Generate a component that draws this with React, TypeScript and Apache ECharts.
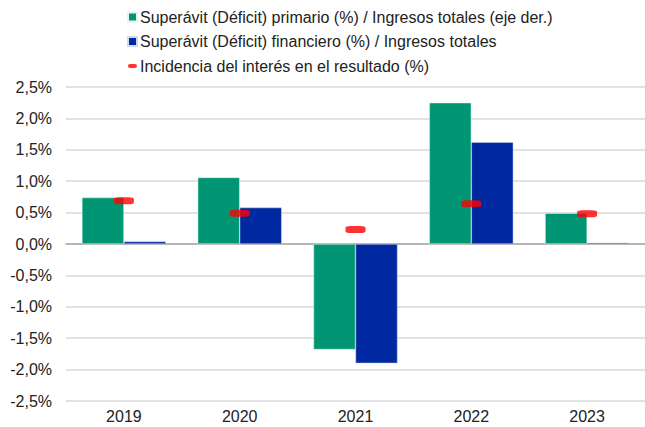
import React, { useEffect, useRef } from "react";
import * as echarts from "echarts";

const categories = ["2019", "2020", "2021", "2022", "2023"];
const primario = [0.74, 1.06, -1.68, 2.25, 0.49];
const financiero = [0.04, 0.58, -1.9, 1.62, 0.02];
const incidencia = [0.69, 0.49, 0.23, 0.64, 0.48];

const names = [
  "Superávit (Déficit) primario (%) / Ingresos totales (eje der.)",
  "Superávit (Déficit) financiero (%) / Ingresos totales",
  "Incidencia del interés en el resultado (%)",
];

export default function App() {
  const ref = useRef<HTMLDivElement>(null);
  useEffect(() => {
    if (!ref.current) return;
    const chart = echarts.init(ref.current, undefined, { renderer: "svg" });
    const font = "Liberation Sans, Arial, sans-serif";
    chart.setOption({
      animation: false,
      backgroundColor: "#ffffff",
      textStyle: { fontFamily: font },
      legend: {
        orient: "vertical",
        left: 122,
        top: 4,
        itemGap: 8.5,
        itemWidth: 9,
        itemHeight: 9,
        textStyle: { fontSize: 16, color: "#222", fontFamily: font, padding: [0, 0, 0, -2] },
        data: [
          { name: names[0], icon: "rect" },
          { name: names[1], icon: "rect" },
          { name: names[2], icon: "path://M3,0h7a3,3 0 0 1 0,6h-7a3,3 0 0 1 0,-6z" },
        ],
      },
      grid: { left: 66, right: 0, top: 87, bottom: 26, containLabel: false },
      xAxis: {
        type: "category",
        data: categories,
        axisLine: { onZero: true, lineStyle: { color: "#a6a6a6", width: 1.5 } },
        axisTick: { show: false },
        axisLabel: { fontSize: 16, color: "#222", margin: 7, fontFamily: font },
      },
      yAxis: {
        type: "value",
        min: -2.5,
        max: 2.5,
        interval: 0.5,
        axisLine: { show: false },
        axisTick: { show: false },
        splitLine: { lineStyle: { color: "#d9d9d9", width: 1.5 } },
        axisLabel: {
          fontSize: 16,
          color: "#222",
          margin: 14,
          fontFamily: font,
          formatter: (v: number) => v.toFixed(1).replace(".", ",") + "%",
        },
      },
      series: [
        {
          name: names[0],
          type: "bar",
          data: primario,
          barWidth: 42,
          barGap: "0%",
          itemStyle: { color: "#009673", borderColor: "#e6f4ef", borderWidth: 0.5 },
        },
        {
          name: names[1],
          type: "bar",
          data: financiero,
          barWidth: 42,
          barGap: "0%",
          itemStyle: { color: "#0028a0", borderColor: "#d0d8f0", borderWidth: 0.5 },
        },
        {
          name: names[2],
          type: "scatter",
          data: incidencia,
          symbol: "roundRect",
          symbolSize: [20, 7],
          symbolKeepAspect: true,
          z: 5,
          itemStyle: { color: "#ff0000" },
        },
      ],
    });
    return () => chart.dispose();
  }, []);
  return (
    <div
      ref={ref}
      style={{ position: "absolute", left: 0, top: 0, width: 645, height: 427 }}
    />
  );
}
